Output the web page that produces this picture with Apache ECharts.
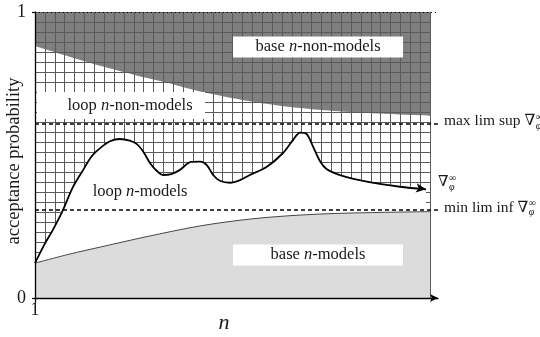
<!DOCTYPE html>
<html><head><meta charset="utf-8">
<script src="https://cdn.jsdelivr.net/npm/echarts@6/dist/echarts.min.js"></script>
<style>html,body{margin:0;padding:0;background:#fff}#c{width:540px;height:337px}</style>
</head><body><div id="c"></div>
<script>
// ---- data (x in arbitrary n-units, 0 = n of 1) ----
const curveX = [0, 2.5, 4.6, 7.1, 9.5, 12.2, 14.3, 16.5, 19, 21.5, 24, 25.8, 27.5, 29.1, 30.8, 32.4, 34.5, 36.7, 39.5, 41.8, 43.5, 45.1, 46.8, 49.4, 52, 54.4, 58.7, 62.8, 65.3, 67.1, 68.8, 70.4, 72.2, 73.8, 77.2, 84.0, 92.4, 99];
const curveY = [0.122, 0.19, 0.24, 0.308, 0.385, 0.448, 0.495, 0.524, 0.548, 0.556, 0.550, 0.538, 0.51, 0.472, 0.445, 0.430, 0.433, 0.448, 0.476, 0.477, 0.465, 0.430, 0.410, 0.403, 0.413, 0.430, 0.459, 0.507, 0.552, 0.578, 0.573, 0.529, 0.477, 0.451, 0.430, 0.407, 0.389, 0.380];
const upperX = [0, 8.2, 16.5, 25, 33, 41.8, 54.4, 67.1, 79.7, 100];
const upperY = [0.881, 0.846, 0.812, 0.781, 0.754, 0.722, 0.688, 0.664, 0.650, 0.637];
const lowerX = [0, 8.9, 16.5, 29.1, 41.8, 54.4, 67.1, 79.7, 100];
const lowerY = [0.122, 0.154, 0.178, 0.217, 0.252, 0.276, 0.290, 0.297, 0.302];
const maxLimSup = 0.615;
const minLimInf = 0.313;
const yTickLabels = ['0', '1'];
const xTickLabel = '1';
const regionLabels = [
  {name: 'base n-non-models', x: 71.65, y: 0.8776},
  {name: 'loop n-non-models', x: 21.77, y: 0.673},
  {name: 'loop n-models', x: 26.6, y: 0.371},
  {name: 'base n-models', x: 71.65, y: 0.1503}
];

const FONT = '"Liberation Serif","DejaVu Serif",serif';
const TXT = '#1a1a1a';
const zip = (a, b) => a.map((v, i) => [v, b[i]]);

function measure(text, size) {
  const c = document.createElement('canvas').getContext('2d');
  c.font = size + 'px ' + FONT;
  return c.measureText(text).width;
}
function richName(s) {
  const parts = s.split(' n');
  return '{t|' + parts[0] + ' }{i|n}{t|' + parts[1] + '}';
}
const richStyles = {
  t: {fontFamily: FONT, fontSize: 16.5, color: TXT},
  i: {fontFamily: FONT, fontSize: 16.5, fontStyle: 'italic', color: TXT}
};

const curveData = zip(curveX, curveY).map((p, i, arr) => i === arr.length - 1 ?
  {value: p, symbol: 'arrow', symbolSize: [7, 10], symbolRotate: -98, itemStyle: {color: '#000'}} : {value: p});

const labelItems = [];
regionLabels.forEach((r, k) => {
  const boxed = k !== 2;
  const lbl = {show: true, position: 'inside', formatter: richName(r.name), rich: richStyles, align: 'center', verticalAlign: 'middle', opacity: 1};
  if (boxed) {
    lbl.backgroundColor = '#fff';
    if (k === 1) { lbl.width = 150; lbl.padding = [5, 0, 5, 18]; }
    else { lbl.width = 170; lbl.padding = [2, 0, 2, 0]; }
  }
  labelItems.push({value: [r.x, r.y], label: lbl});
});
const endX = 102;
function nablaLabel(anchor, mainText, mainSize, dy, supDy, subDy, dist) {
  const w = measure(mainText, mainSize);
  const base = {show: true, position: 'right', distance: dist, color: TXT, fontFamily: FONT, opacity: 1};
  labelItems.push({value: anchor, label: Object.assign({}, base, {formatter: mainText, fontSize: mainSize, offset: [0, dy]})});
  labelItems.push({value: anchor, label: Object.assign({}, base, {formatter: '∞', fontSize: 10, offset: [w + 0.5, supDy]})});
  labelItems.push({value: anchor, label: Object.assign({}, base, {formatter: 'φ', fontSize: 10, fontStyle: 'italic', offset: [w + 0.5, subDy]})});
}
nablaLabel([endX, maxLimSup], 'max lim sup ∇', 15.5, -1, -5, 4, 6);
nablaLabel([endX, minLimInf], 'min lim inf ∇', 15.5, -1, -5, 4, 6);
nablaLabel([curveX[curveX.length - 1], curveY[curveY.length - 1]], '∇', 15, -7, -11, -2, 12);

const chart = echarts.init(document.getElementById('c'), null, {renderer: 'canvas'});
chart.setOption({
  animation: false,
  grid: [
    {left: 35, top: 12, right: 110, bottom: 39, containLabel: false, outerBoundsMode: 'none'},
    {left: 35, top: 12, right: 102.1, bottom: 39, containLabel: false, outerBoundsMode: 'none'}
  ],
  xAxis: [
    {type: 'value', gridIndex: 1, min: 0, max: 102, z: 10,
      axisLine: {lineStyle: {color: '#000', width: 1.3}, symbol: ['none', 'arrow'], symbolSize: [6, 8]},
      axisTick: {customValues: [0], length: 4, lineStyle: {color: '#000', width: 1.2}},
      axisLabel: {customValues: [0], formatter: () => xTickLabel, margin: 3, fontFamily: FONT, fontSize: 18, color: TXT},
      splitLine: {show: false},
      name: 'n', nameLocation: 'middle', nameGap: 14, nameMoveOverlap: false,
      nameTextStyle: {fontFamily: FONT, fontStyle: 'italic', fontSize: 22, color: TXT, padding: [0, 25, 0, 0]}
    },
    {type: 'value', gridIndex: 0, min: 0, max: 40, interval: 1, z: 3,
      axisLine: {show: false}, axisTick: {show: false}, axisLabel: {show: false},
      splitLine: {show: true, lineStyle: {color: '#5a5a5a', width: 1}}
    }
  ],
  yAxis: [
    {type: 'value', gridIndex: 1, min: 0, max: 1, interval: 1, z: 10,
      axisLine: {show: true, lineStyle: {color: '#000', width: 1.3}},
      axisTick: {show: true, length: 3, lineStyle: {color: '#000', width: 1.2}},
      axisLabel: {formatter: v => yTickLabels[v], margin: 9, fontFamily: FONT, fontSize: 18, color: TXT},
      splitLine: {show: false},
      name: 'acceptance probability', nameLocation: 'middle', nameGap: 11, nameMoveOverlap: false,
      nameTextStyle: {fontFamily: FONT, fontSize: 18.5, color: TXT, padding: [0, 12, 0, 0]}
    },
    {type: 'value', gridIndex: 0, inverse: true, min: 0, max: 28.6, interval: 1, z: 3,
      axisLine: {show: false}, axisTick: {show: false}, axisLabel: {show: false},
      splitLine: {show: true, lineStyle: {color: '#5a5a5a', width: 1}}
    }
  ],
  series: [
    {type: 'line', name: 'base n-non-models', data: zip(upperX, upperY), smooth: 0.3, symbol: 'none', z: 1,
      lineStyle: {width: 0}, areaStyle: {color: '#7f7f7f', opacity: 1, origin: 'end'}},
    {type: 'line', name: 'loop n-models fill', data: zip(curveX, curveY), smooth: 0.3, symbol: 'none', z: 4,
      lineStyle: {width: 0}, areaStyle: {color: '#ffffff', opacity: 1, origin: 'start'}},
    {type: 'line', name: 'base n-models', data: zip(lowerX, lowerY), smooth: 0.3, symbol: 'none', z: 5,
      lineStyle: {width: 0.9, color: '#333'}, areaStyle: {color: '#dcdcdc', opacity: 1, origin: 'start'}},
    {type: 'line', name: 'nabla', data: curveData, smooth: 0.3, symbol: 'none', showSymbol: true, z: 6,
      lineStyle: {width: 1.8, color: '#000'},
      markLine: {silent: true, symbol: 'none', label: {show: false},
        data: [
          {yAxis: 1, lineStyle: {type: [1, 3], width: 1, color: '#000'}},
          {yAxis: maxLimSup, lineStyle: {type: [4, 3], width: 1.5, color: '#000'}},
          {yAxis: minLimInf, lineStyle: {type: [4, 3], width: 1.5, color: '#000'}}
        ]}
    },
    {type: 'scatter', name: 'labels', data: labelItems, symbolSize: 0, z: 7, silent: true,
      itemStyle: {opacity: 1}}
  ]
});
</script></body></html>
